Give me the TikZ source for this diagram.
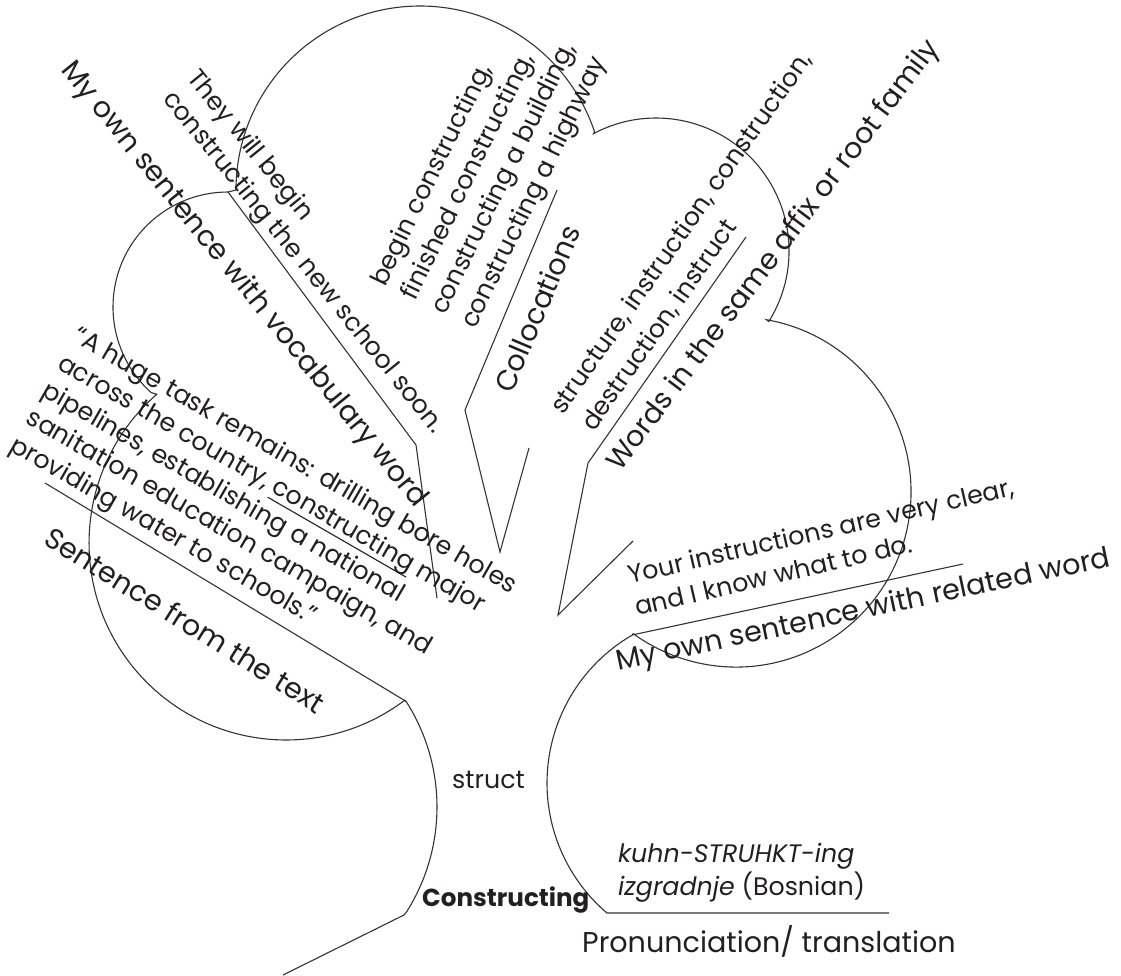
\documentclass[tikz,border=0pt]{standalone}
\usepackage{fontspec}
\setmainfont{Poppins}
\definecolor{ink}{HTML}{231F20}
\definecolor{stroke}{HTML}{333333}
% underline a word with a rule that sits just under the descenders
\newcommand\wordline[1]{\setbox0\hbox{#1}\rlap{\vrule width\wd0 height -5.5pt depth 6.6pt}\box0\relax}
\begin{document}
\begin{tikzpicture}[x=1pt,y=-1pt,
  outline/.style={draw=stroke, line width=1.1pt, line join=miter},
  catlabel/.style={inner sep=0pt, anchor=base west, text=ink, font=\fontsize{28.6}{33}\selectfont},
  example/.style={inner sep=0pt, anchor=base west, text=ink, font=\fontsize{25.3}{30}\selectfont}]
\useasboundingbox (0,0) rectangle (1121,975);

% ---- junction points of the outline ----
\coordinate (topL)   at (236,190);
\coordinate (leafJ)  at (228,192);
\coordinate (r1S)    at (593.6,133.6);
\coordinate (r2S)    at (766.4,319.7);
\coordinate (r3S)    at (632.5,634.9);
\coordinate (l2S)    at (156.8,394.3);
\coordinate (trunkS) at (406.1,701.4);
\coordinate (trunkK) at (404,915);
\coordinate (trunkB) at (283,975);
\coordinate (pronE)  at (889,913);

% ---- canopy: top leaf, two right leaves, lower right leaf ----
\draw[outline] (topL) arc[start angle=-180, end angle=-18.5, radius=184]
  -- (r1S) arc[start angle=-118, end angle=32, radius=133]
  -- (r2S) arc[start angle=-80, end angle=126, radius=175]
  -- (r3S) arc[start angle=-120, end angle=-229.5, radius=171]
  -- (pronE);
\draw[outline] (topL) -- (leafJ);

% ---- left leaves and trunk ----
\draw[outline] (leafJ) arc[start angle=-90, end angle=-228, radius=115]
  -- (l2S) arc[start angle=-131, end angle=-307, radius=197]
  -- (trunkS) arc[start angle=-32.6, end angle=32.2, radius=196]
  -- (trunkK) -- (trunkB);

% ---- branches ----
\coordinate (vocM) at (416,445);
\coordinate (vocE) at (437,598);
\draw[outline] (leafJ) -- (vocM) -- (vocE);

\coordinate (colA) at (557,190);
\coordinate (colB) at (465,410);
\coordinate (colC) at (500,552);
\coordinate (colD) at (529,448);
\draw[outline] (colA) -- (colB) -- (colC) -- (colD);

\coordinate (famA) at (746,237);
\coordinate (famB) at (588,463);
\coordinate (famC) at (558,615);
\coordinate (famD) at (633,541);
\draw[outline] (famA) -- (famB) -- (famC) -- (famD);

\coordinate (relE) at (963,564);
\draw[outline] (r3S) -- (relE);

\coordinate (txtS) at (45,483);
\draw[outline] (txtS) -- (trunkS);

% ---- texts ----
\node[catlabel, rotate=-51] (vocLabel) at (60,70) {My own sentence with vocabulary word};
\node[example, rotate=-51] (vocEx1) at (186,78) {They will begin};
\node[example, rotate=-51] (vocEx2) at (162,99) {constructing the new school soon.};

\node[example, rotate=64] (colEx1) at (385,288) {begin constructing,};
\node[example, rotate=64] (colEx2) at (415,302) {finished constructing,};
\node[example, rotate=64] (colEx3) at (445,316) {constructing a building,};
\node[example, rotate=64] (colEx4) at (475,330) {constructing a highway};
\node[catlabel, rotate=67] (colLabel) at (512,395) {Collocations};

\node[example, rotate=55] (famEx1) at (563,416) {structure, instruction, construction,};
\node[example, rotate=55] (famEx2) at (594,433) {destruction, instruct};
\node[catlabel, rotate=53] (famLabel) at (620,473) {Words in the same affix or root family};

\node[example, rotate=13] (relEx1) at (630,584) {Your instructions are very clear,};
\node[example, rotate=13] (relEx2) at (637,616) {and I know what to do.};
\node[catlabel, rotate=12] (relLabel) at (618,671) {My own sentence with related word};

\node[example] (pron1) at (618,862) {\itshape kuhn-STRUHKT-ing};
\node[example] (pron2) at (618,895) {\textit{izgradnje} (Bosnian)};
\node[catlabel] (pronLabel) at (582,952) {Pronunciation/ translation};

\node[example] (rootWord) at (452,788) {struct};
\node[example, font=\fontsize{24.6}{29}\selectfont\bfseries] (headWord) at (422,906) {Constructing};

\node[example, rotate=-30] (txtEx1) at (71.8,340.7) {“A huge task remains: drilling bore holes};
\node[example, rotate=-30] (txtEx2) at (56,368) {across the country, \wordline{constructing} major};
\node[example, rotate=-30] (txtEx3) at (40.3,395.3) {pipelines, establishing a national};
\node[example, rotate=-30] (txtEx4) at (24.5,422.6) {sanitation education campaign, and};
\node[example, rotate=-30] (txtEx5) at (8.8,449.9) {providing water to schools.”};
\node[catlabel, rotate=-32] (txtLabel) at (42,543) {Sentence from the text};
\end{tikzpicture}
\end{document}
